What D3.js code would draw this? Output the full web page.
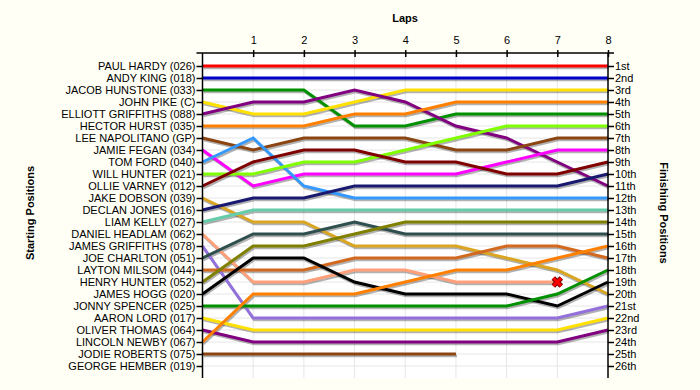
<!DOCTYPE html>
<html>
<head>
<meta charset="utf-8">
<script src="https://cdn.jsdelivr.net/npm/d3@7"></script>
<style>
  body { margin: 0; background: #fffff5; }
  text { font-family: "Liberation Sans", Arial, sans-serif; font-size: 11px; fill: #000; }
</style>
</head>
<body>
<div id="chart"></div>
<script>
// starting grid order (position 1..26)
var drivers = [
    "PAUL HARDY (026)", "ANDY KING (018)", "JACOB HUNSTONE (033)", "JOHN PIKE (C)",
    "ELLIOTT GRIFFITHS (088)", "HECTOR HURST (035)", "LEE NAPOLITANO (GP)", "JAMIE FEGAN (034)",
    "TOM FORD (040)", "WILL HUNTER (021)", "OLLIE VARNEY (012)", "JAKE DOBSON (039)",
    "DECLAN JONES (016)", "LIAM KELLY (027)", "DANIEL HEADLAM (062)", "JAMES GRIFFITHS (078)",
    "JOE CHARLTON (051)", "LAYTON MILSOM (044)", "HENRY HUNTER (052)", "JAMES HOGG (020)",
    "JONNY SPENCER (025)", "AARON LORD (017)", "OLIVER THOMAS (064)", "LINCOLN NEWBY (067)",
    "JODIE ROBERTS (075)", "GEORGE HEMBER (019)"
];

var colors = [
    "#ff0000", "#0000c8", "#009000", "#ffe000", "#800080", "#ff8000", "#8b4513", "#ff00ff",
    "#3399ff", "#80ff00", "#800000", "#daa520", "#191970", "#66cdaa", "#ffa07a", "#9370db",
    "#2f4f4f", "#d2691e", "#808000", "#000000", "#009000", "#ffe000", "#800080", "#ff8000",
    "#8b4513", "#808080"
];

// position at lap 0..8 for each driver (shorter = retired)
var positions = [
    [1, 1, 1, 1, 1, 1, 1, 1, 1],
    [2, 2, 2, 2, 2, 2, 2, 2, 2],
    [3, 3, 3, 6, 6, 5, 5, 5, 5],
    [4, 5, 5, 4, 3, 3, 3, 3, 3],
    [5, 4, 4, 3, 4, 6, 7, 9, 11],
    [6, 6, 6, 5, 5, 4, 4, 4, 4],
    [7, 8, 7, 7, 7, 8, 8, 7, 7],
    [8, 11, 10, 10, 10, 10, 9, 8, 8],
    [9, 7, 11, 12, 12, 12, 12, 12, 12],
    [10, 10, 9, 9, 8, 7, 6, 6, 6],
    [11, 9, 8, 8, 9, 9, 10, 10, 9],
    [12, 14, 14, 16, 16, 16, 17, 18, 20],
    [13, 12, 12, 11, 11, 11, 11, 11, 10],
    [14, 13, 13, 13, 13, 13, 13, 13, 13],
    [15, 19, 19, 18, 18, 19, 19, 19],
    [16, 22, 22, 22, 22, 22, 22, 22, 21],
    [17, 15, 15, 14, 15, 15, 15, 15, 15],
    [18, 18, 18, 17, 17, 17, 16, 16, 17],
    [19, 16, 16, 15, 14, 14, 14, 14, 14],
    [20, 17, 17, 19, 20, 20, 20, 21, 19],
    [21, 21, 21, 21, 21, 21, 21, 20, 18],
    [22, 23, 23, 23, 23, 23, 23, 23, 22],
    [23, 24, 24, 24, 24, 24, 24, 24, 23],
    [24, 20, 20, 20, 19, 18, 18, 17, 16],
    [25, 25, 25, 25, 25, 25],
    []
];

// drivers marked with a cross where they stopped
var crashed = ["DANIEL HEADLAM (062)"];

var laps = [0, 1, 2, 3, 4, 5, 6, 7, 8];
var finishLabels = ["1st", "2nd", "3rd", "4th", "5th", "6th", "7th", "8th", "9th", "10th",
    "11th", "12th", "13th", "14th", "15th", "16th", "17th", "18th", "19th", "20th",
    "21st", "22nd", "23rd", "24th", "25th", "26th"];

var width = 700, height = 390;
var svg = d3.select("#chart").append("svg").attr("width", width).attr("height", height);

var x = d3.scaleLinear().domain([0, 8]).range([202.5, 608]);
var y = d3.scaleLinear().domain([0, 27]).range([54, 378]);
var posList = d3.range(1, 27);

// plot area
svg.append("rect")
    .attr("x", x(0)).attr("y", y(0))
    .attr("width", x(8) - x(0)).attr("height", y(27) - y(0))
    .attr("fill", "#fff");

// grid
svg.append("g").selectAll("line").data(laps.slice(1, 8)).enter().append("line")
    .attr("x1", d => x(d)).attr("x2", d => x(d))
    .attr("y1", y(0)).attr("y2", y(27))
    .attr("stroke", "#e6e6e6").attr("stroke-width", 1);
svg.append("g").selectAll("line").data(posList).enter().append("line")
    .attr("x1", x(0)).attr("x2", x(8))
    .attr("y1", d => y(d)).attr("y2", d => y(d))
    .attr("stroke", "#e6e6e6").attr("stroke-width", 1);

var line = d3.line().x((d, i) => x(i)).y(d => y(d));
var series = drivers.map((name, i) => ({ name: name, color: colors[i], pos: positions[i] }))
    .filter(d => d.pos.length > 1);

// shadows
svg.append("g").attr("transform", "translate(1,2)")
    .selectAll("path").data(series).enter().append("path")
    .attr("d", d => line(d.pos))
    .attr("fill", "none").attr("stroke", "#000").attr("stroke-opacity", 0.3)
    .attr("stroke-width", 2.5);

svg.append("g")
    .selectAll("path").data(series).enter().append("path")
    .attr("d", d => line(d.pos))
    .attr("fill", "none").attr("stroke", d => d.color)
    .attr("stroke-width", 3);

// crash markers
var cross = svg.append("g").selectAll("g").data(series.filter(d => crashed.indexOf(d.name) >= 0))
    .enter().append("g")
    .attr("transform", d => `translate(${x(d.pos.length - 1)},${y(d.pos[d.pos.length - 1])})`);
cross.append("path").attr("d", "M-4,-4L4,4M4,-4L-4,4")
    .attr("stroke", "#700").attr("stroke-width", 5);
cross.append("path").attr("d", "M-4,-4L4,4M4,-4L-4,4")
    .attr("stroke", "#f00").attr("stroke-width", 3);

// axes
var lapAxis = d3.axisTop(x).tickValues(laps.slice(1)).tickSize(3).tickSizeOuter(0);
svg.append("g").attr("transform", `translate(0,${y(0) - 1})`)
    .call(lapAxis)
    .call(g => g.select(".domain").attr("d", `M${x(0) - 6},0H${x(8) + 6}`))
    .call(g => g.selectAll(".tick line").attr("y2", 4).attr("y1", -3))
    .call(g => g.selectAll(".tick text").attr("y", -7).attr("dy", "-0.2em"));

var startAxis = d3.axisLeft(y).tickValues(posList).tickFormat(d => drivers[d - 1]).tickSize(6).tickSizeOuter(0);
svg.append("g").attr("transform", `translate(${x(0)},0)`)
    .call(startAxis)
    .call(g => g.select(".domain").attr("d", `M0,${y(0) - 1}V${y(27)}`))
    .call(g => g.selectAll(".tick text").attr("x", -7).attr("fill", "#0a1030"));

var finishAxis = d3.axisRight(y).tickValues(posList).tickFormat(d => finishLabels[d - 1]).tickSize(6).tickSizeOuter(0);
svg.append("g").attr("transform", `translate(${x(8)},0)`)
    .call(finishAxis)
    .call(g => g.select(".domain").attr("d", `M0,${y(0) - 1}V${y(27)}`))
    .call(g => g.selectAll(".tick text").attr("x", 7).attr("fill", "#0a1030"));

svg.selectAll(".tick text").style("font-size", "11px").style("font-family", "'Liberation Sans', Arial, sans-serif");
svg.selectAll(".domain, .tick line").attr("stroke", "#000").attr("stroke-width", 1.5);

// titles
svg.append("text").attr("x", 405).attr("y", 22).attr("text-anchor", "middle")
    .style("font-weight", "bold").text("Laps");
svg.append("text").attr("transform", "translate(34,213) rotate(-90)").attr("text-anchor", "middle")
    .style("font-weight", "bold").text("Starting Positions");
svg.append("text").attr("transform", "translate(660,213) rotate(90)").attr("text-anchor", "middle")
    .style("font-weight", "bold").text("Finishing Positions");
</script>
</body>
</html>
